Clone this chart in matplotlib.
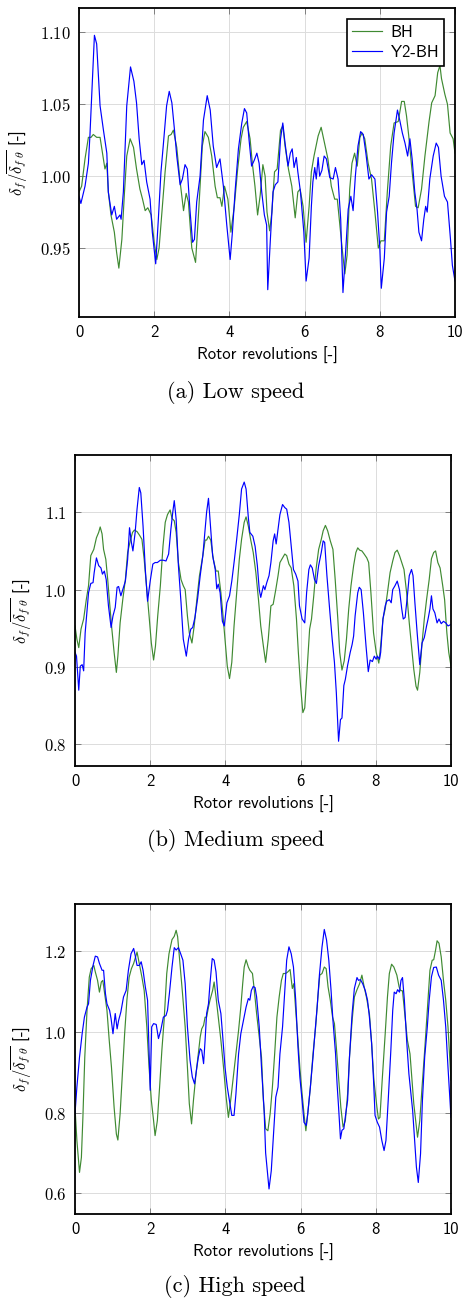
import matplotlib
matplotlib.use('Agg')
import matplotlib.pyplot as plt

plt.rcParams['mathtext.fontset'] = 'cm'
plt.rcParams['axes.unicode_minus'] = False

# ---- data ----
xticks = [0, 2, 4, 6, 8, 10]
xtick_labels = ['0', '2', '4', '6', '8', '10']

# (a) low speed
a_x_bh = [0.0, 0.07, 0.16, 0.25, 0.32, 0.38, 0.47, 0.56, 0.65, 0.69, 0.74, 0.78, 0.85, 0.94, 1.0, 1.06,
          1.14, 1.21, 1.27, 1.36, 1.45, 1.53, 1.62, 1.69, 1.76, 1.83, 1.92, 2.0, 2.07, 2.13, 2.2, 2.29,
          2.38, 2.45, 2.51, 2.6, 2.69, 2.78, 2.85, 2.91, 3.0, 3.1, 3.19, 3.28, 3.35, 3.44, 3.53, 3.62,
          3.68, 3.75, 3.8, 3.87, 3.96, 4.04, 4.13, 4.22, 4.31, 4.37, 4.46, 4.55, 4.61, 4.68, 4.75, 4.82,
          4.89, 4.95, 5.0, 5.07, 5.13, 5.2, 5.27, 5.36, 5.42, 5.48, 5.57, 5.66, 5.75, 5.82, 5.88, 5.96,
          6.04, 6.12, 6.18, 6.25, 6.36, 6.44, 6.53, 6.62, 6.71, 6.8, 6.87, 6.93, 6.99, 7.07, 7.13, 7.2,
          7.26, 7.33, 7.4, 7.47, 7.53, 7.6, 7.69, 7.78, 7.87, 7.96, 8.03, 8.12, 8.2, 8.29, 8.38, 8.49,
          8.58, 8.65, 8.71, 8.77, 8.86, 8.95, 9.02, 9.11, 9.2, 9.31, 9.38, 9.47, 9.54, 9.6, 9.64, 9.73,
          9.8, 9.87, 9.95, 10.0]
a_bh = [0.989, 0.993, 1.012, 1.027, 1.027, 1.029, 1.027, 1.027, 1.012, 1.005, 1.009, 0.989, 0.973, 0.961,
        0.947, 0.936, 0.956, 0.989, 1.014, 1.026, 1.020, 1.005, 0.991, 0.984, 0.976, 0.978, 0.973, 0.954,
        0.942, 0.950, 0.973, 1.003, 1.028, 1.029, 1.032, 1.020, 0.996, 0.976, 0.988, 0.982, 0.950, 0.940,
        0.979, 1.021, 1.031, 1.027, 1.014, 0.993, 0.985, 0.985, 0.979, 0.993, 0.984, 0.961, 0.979, 1.005,
        1.026, 1.034, 1.038, 1.026, 1.009, 0.993, 0.973, 0.987, 1.008, 1.000, 0.975, 0.962, 0.975, 1.003,
        1.005, 1.032, 1.035, 1.021, 1.005, 0.993, 0.971, 0.989, 0.991, 0.979, 0.954, 0.979, 1.003, 1.014,
        1.028, 1.034, 1.023, 1.012, 0.993, 0.984, 0.984, 0.968, 0.952, 0.932, 0.945, 0.991, 1.009, 1.016,
        1.007, 1.027, 1.030, 1.026, 1.009, 0.998, 0.975, 0.950, 0.955, 0.955, 0.989, 1.021, 1.037, 1.038,
        1.052, 1.052, 1.042, 1.028, 1.003, 0.979, 0.978, 0.991, 1.014, 1.038, 1.051, 1.056, 1.072, 1.077,
        1.068, 1.057, 1.050, 1.030, 1.026, 1.016]
a_x_y2 = [0.0, 0.05, 0.16, 0.25, 0.29, 0.41, 0.47, 0.56, 0.65, 0.74, 0.78, 0.87, 0.94, 1.0, 1.09, 1.12,
          1.18, 1.27, 1.37, 1.46, 1.53, 1.6, 1.67, 1.73, 1.8, 1.89, 1.95, 2.04, 2.11, 2.18, 2.24, 2.33,
          2.4, 2.47, 2.54, 2.6, 2.69, 2.75, 2.82, 2.88, 2.95, 3.02, 3.07, 3.13, 3.22, 3.31, 3.41, 3.49,
          3.57, 3.66, 3.75, 3.84, 3.93, 4.02, 4.08, 4.15, 4.24, 4.33, 4.4, 4.46, 4.52, 4.59, 4.66, 4.73,
          4.79, 4.86, 4.93, 4.99, 5.02, 5.09, 5.16, 5.22, 5.29, 5.36, 5.42, 5.48, 5.56, 5.62, 5.67, 5.72,
          5.78, 5.82, 5.89, 5.98, 6.04, 6.12, 6.18, 6.22, 6.27, 6.31, 6.36, 6.4, 6.46, 6.52, 6.58, 6.67,
          6.76, 6.82, 6.89, 6.96, 7.02, 7.09, 7.16, 7.23, 7.29, 7.35, 7.42, 7.49, 7.56, 7.63, 7.71, 7.78,
          7.87, 7.94, 8.0, 8.04, 8.12, 8.18, 8.25, 8.31, 8.38, 8.47, 8.53, 8.6, 8.67, 8.74, 8.8, 8.86,
          8.93, 8.99, 9.04, 9.11, 9.17, 9.22, 9.26, 9.33, 9.42, 9.5, 9.56, 9.63, 9.72, 9.8, 9.88, 9.93,
          10.0]
a_y2 = [0.986, 0.981, 0.993, 1.009, 1.028, 1.098, 1.092, 1.049, 1.032, 1.016, 0.989, 0.973, 0.979, 0.970,
        0.973, 0.970, 0.989, 1.049, 1.076, 1.066, 1.051, 1.026, 1.008, 1.011, 0.996, 0.984, 0.961, 0.939,
        0.970, 1.003, 1.021, 1.049, 1.059, 1.051, 1.032, 1.014, 0.994, 0.998, 1.008, 1.005, 0.977, 0.954,
        0.956, 0.982, 1.000, 1.039, 1.056, 1.046, 1.021, 1.006, 1.012, 0.993, 0.966, 0.942, 0.961, 0.989,
        1.019, 1.037, 1.047, 1.044, 1.026, 1.007, 1.011, 1.016, 1.009, 0.989, 0.973, 0.966, 0.921, 0.956,
        0.989, 0.994, 0.996, 1.026, 1.037, 1.023, 1.007, 1.016, 1.019, 1.006, 1.013, 1.003, 0.989, 0.961,
        0.927, 0.943, 0.979, 0.996, 1.006, 0.998, 1.013, 1.000, 1.004, 1.014, 1.012, 0.999, 0.998, 1.006,
        0.998, 0.970, 0.919, 0.947, 0.977, 0.986, 0.976, 1.000, 1.021, 1.031, 1.029, 1.016, 0.998, 1.001,
        0.998, 0.975, 0.950, 0.922, 0.943, 0.975, 0.986, 1.009, 1.030, 1.046, 1.039, 1.030, 1.023, 1.014,
        1.026, 1.012, 0.989, 0.977, 0.961, 0.955, 0.970, 0.979, 0.975, 0.998, 1.014, 1.023, 1.020, 1.000,
        0.986, 0.982, 0.956, 0.938, 0.927]

# (b) medium speed
b_x_bh = [0.0, 0.05, 0.1, 0.16, 0.23, 0.3, 0.36, 0.42, 0.5, 0.57, 0.63, 0.67, 0.72, 0.76, 0.82, 0.87,
          0.92, 0.98, 1.04, 1.1, 1.14, 1.2, 1.27, 1.34, 1.4, 1.47, 1.53, 1.58, 1.65, 1.72, 1.78, 1.84,
          1.91, 1.97, 2.03, 2.09, 2.14, 2.2, 2.27, 2.34, 2.4, 2.46, 2.53, 2.58, 2.64, 2.69, 2.75, 2.82,
          2.88, 2.93, 2.99, 3.04, 3.11, 3.17, 3.24, 3.31, 3.4, 3.46, 3.5, 3.55, 3.61, 3.68, 3.75, 3.81,
          3.88, 3.93, 3.99, 4.05, 4.11, 4.17, 4.23, 4.3, 4.37, 4.43, 4.5, 4.55, 4.61, 4.67, 4.74, 4.81,
          4.88, 4.94, 5.01, 5.07, 5.14, 5.21, 5.27, 5.34, 5.4, 5.45, 5.52, 5.58, 5.63, 5.69, 5.75, 5.82,
          5.89, 5.94, 6.0, 6.06, 6.11, 6.18, 6.24, 6.29, 6.35, 6.41, 6.48, 6.55, 6.6, 6.66, 6.72, 6.79,
          6.86, 6.92, 6.99, 7.04, 7.1, 7.16, 7.22, 7.28, 7.34, 7.41, 7.47, 7.52, 7.57, 7.63, 7.69, 7.76,
          7.81, 7.87, 7.94, 8.01, 8.08, 8.13, 8.19, 8.25, 8.31, 8.38, 8.45, 8.51, 8.57, 8.63, 8.69, 8.75,
          8.82, 8.89, 8.95, 9.01, 9.07, 9.11, 9.17, 9.23, 9.29, 9.35, 9.42, 9.48, 9.54, 9.59, 9.65, 9.71,
          9.78, 9.83, 9.89, 9.94, 10.0]
b_bh = [0.953, 0.936, 0.925, 0.949, 0.962, 0.987, 1.005, 1.044, 1.052, 1.067, 1.074, 1.081, 1.072, 1.052,
        1.039, 1.013, 0.983, 0.949, 0.919, 0.893, 0.914, 0.957, 0.987, 1.013, 1.048, 1.063, 1.074, 1.077,
        1.075, 1.070, 1.065, 1.039, 1.000, 0.966, 0.931, 0.909, 0.927, 0.966, 1.005, 1.056, 1.087, 1.097,
        1.103, 1.092, 1.089, 1.074, 1.035, 1.013, 1.005, 1.000, 0.966, 0.944, 0.931, 0.953, 0.987, 1.018,
        1.044, 1.064, 1.064, 1.069, 1.064, 1.039, 1.024, 1.024, 0.996, 0.970, 0.936, 0.901, 0.885, 0.906,
        0.953, 0.996, 1.039, 1.065, 1.087, 1.094, 1.082, 1.065, 1.048, 1.022, 0.987, 0.953, 0.927, 0.906,
        0.936, 0.979, 0.981, 1.000, 1.018, 1.035, 1.041, 1.046, 1.044, 1.033, 1.028, 1.005, 0.962, 0.919,
        0.875, 0.841, 0.847, 0.901, 0.949, 0.962, 0.992, 1.026, 1.052, 1.065, 1.076, 1.083, 1.076, 1.063,
        1.052, 1.013, 0.962, 0.919, 0.896, 0.908, 0.936, 0.975, 1.005, 1.031, 1.048, 1.054, 1.051, 1.050,
        1.046, 1.041, 1.035, 0.996, 0.944, 0.919, 0.905, 0.928, 0.962, 0.975, 0.996, 1.022, 1.037, 1.048,
        1.051, 1.044, 1.035, 1.026, 0.996, 0.957, 0.927, 0.897, 0.875, 0.870, 0.893, 0.931, 0.962, 0.987,
        1.013, 1.040, 1.048, 1.050, 1.035, 1.028, 1.005, 0.987, 0.944, 0.919, 0.901]
b_x_y2 = [0.0, 0.04, 0.1, 0.14, 0.19, 0.23, 0.27, 0.36, 0.42, 0.48, 0.51, 0.57, 0.63, 0.69, 0.73, 0.78,
          0.83, 0.89, 0.96, 1.01, 1.07, 1.12, 1.16, 1.22, 1.27, 1.34, 1.4, 1.45, 1.5, 1.54, 1.6, 1.65,
          1.71, 1.75, 1.81, 1.87, 1.93, 2.0, 2.07, 2.13, 2.19, 2.27, 2.35, 2.42, 2.49, 2.55, 2.6, 2.64,
          2.69, 2.75, 2.82, 2.88, 2.96, 3.02, 3.08, 3.13, 3.19, 3.26, 3.33, 3.4, 3.46, 3.5, 3.55, 3.59,
          3.66, 3.73, 3.77, 3.81, 3.86, 3.92, 3.97, 4.04, 4.11, 4.17, 4.24, 4.3, 4.37, 4.43, 4.5, 4.55,
          4.61, 4.65, 4.73, 4.79, 4.85, 4.9, 4.94, 5.01, 5.05, 5.1, 5.16, 5.21, 5.27, 5.31, 5.35, 5.4,
          5.45, 5.52, 5.58, 5.63, 5.69, 5.75, 5.81, 5.87, 5.93, 5.97, 6.04, 6.11, 6.16, 6.22, 6.26, 6.31,
          6.37, 6.42, 6.48, 6.55, 6.6, 6.64, 6.7, 6.78, 6.84, 6.9, 6.95, 7.01, 7.06, 7.1, 7.15, 7.19,
          7.25, 7.32, 7.37, 7.41, 7.45, 7.52, 7.56, 7.61, 7.67, 7.74, 7.8, 7.85, 7.91, 7.96, 8.01, 8.04,
          8.1, 8.13, 8.19, 8.25, 8.29, 8.36, 8.41, 8.45, 8.51, 8.57, 8.63, 8.69, 8.73, 8.78, 8.84, 8.89,
          8.95, 8.99, 9.04, 9.1, 9.17, 9.23, 9.29, 9.35, 9.39, 9.44, 9.48, 9.52, 9.57, 9.63, 9.68, 9.74,
          9.8, 9.86, 9.92, 10.0]
b_y2 = [0.919, 0.914, 0.870, 0.901, 0.903, 0.895, 0.944, 0.996, 1.008, 1.009, 1.022, 1.041, 1.031, 1.028,
        1.020, 1.024, 1.013, 0.979, 0.951, 0.966, 0.977, 1.003, 1.004, 0.992, 1.000, 1.011, 1.039, 1.080,
        1.061, 1.050, 1.074, 1.104, 1.132, 1.125, 1.082, 1.026, 0.985, 1.011, 1.033, 1.035, 1.035, 1.038,
        1.038, 1.037, 1.046, 1.078, 1.100, 1.115, 1.091, 1.031, 0.983, 0.936, 0.914, 0.936, 0.949, 0.951,
        0.964, 0.988, 1.018, 1.044, 1.078, 1.100, 1.118, 1.091, 1.044, 1.026, 1.001, 1.007, 0.996, 0.959,
        0.953, 0.983, 0.992, 1.011, 1.039, 1.065, 1.097, 1.130, 1.139, 1.130, 1.093, 1.074, 1.069, 1.056,
        1.031, 1.000, 0.990, 1.005, 1.000, 1.009, 1.018, 1.035, 1.063, 1.072, 1.059, 1.078, 1.097, 1.110,
        1.106, 1.104, 1.087, 1.056, 1.026, 1.020, 1.011, 0.979, 0.962, 0.957, 0.996, 1.026, 1.032, 1.028,
        1.013, 1.008, 1.031, 1.048, 1.063, 1.061, 1.018, 0.970, 0.936, 0.906, 0.867, 0.804, 0.832, 0.834,
        0.876, 0.884, 0.902, 0.919, 0.929, 0.940, 0.966, 0.996, 1.003, 1.000, 0.970, 0.927, 0.894, 0.909,
        0.907, 0.914, 0.910, 0.914, 0.910, 0.919, 0.962, 0.979, 0.985, 0.987, 0.983, 1.000, 1.005, 1.011,
        1.000, 0.975, 0.962, 0.964, 0.992, 1.018, 1.026, 1.018, 0.983, 0.944, 0.903, 0.931, 0.938, 0.953,
        0.962, 0.975, 0.992, 0.975, 0.970, 0.957, 0.962, 0.956, 0.959, 0.957, 0.953, 0.955]

# (c) high speed
c_x_bh = [0.0, 0.05, 0.12, 0.17, 0.21, 0.26, 0.32, 0.38, 0.43, 0.5, 0.54, 0.6, 0.65, 0.7, 0.74, 0.79,
          0.85, 0.91, 0.97, 1.04, 1.1, 1.14, 1.2, 1.27, 1.32, 1.38, 1.44, 1.5, 1.56, 1.61, 1.65, 1.71,
          1.78, 1.84, 1.91, 1.97, 2.03, 2.09, 2.13, 2.19, 2.25, 2.31, 2.37, 2.44, 2.5, 2.58, 2.64, 2.69,
          2.73, 2.8, 2.86, 2.93, 2.99, 3.04, 3.1, 3.15, 3.21, 3.27, 3.33, 3.37, 3.42, 3.46, 3.5, 3.55,
          3.59, 3.66, 3.7, 3.75, 3.81, 3.88, 3.95, 4.02, 4.08, 4.14, 4.21, 4.27, 4.35, 4.41, 4.46, 4.5,
          4.55, 4.61, 4.65, 4.72, 4.77, 4.83, 4.89, 4.96, 5.01, 5.07, 5.13, 5.19, 5.25, 5.31, 5.37, 5.43,
          5.49, 5.54, 5.6, 5.66, 5.72, 5.78, 5.82, 5.87, 5.93, 5.98, 6.04, 6.09, 6.14, 6.19, 6.26, 6.33,
          6.4, 6.46, 6.51, 6.57, 6.63, 6.68, 6.73, 6.79, 6.85, 6.9, 6.95, 7.01, 7.07, 7.13, 7.19, 7.25,
          7.3, 7.37, 7.43, 7.5, 7.57, 7.63, 7.69, 7.75, 7.83, 7.89, 7.95, 8.03, 8.07, 8.11, 8.17, 8.25,
          8.31, 8.36, 8.42, 8.48, 8.56, 8.62, 8.66, 8.71, 8.78, 8.84, 8.91, 8.95, 9.01, 9.07, 9.11, 9.17,
          9.23, 9.3, 9.37, 9.44, 9.5, 9.54, 9.59, 9.63, 9.68, 9.74, 9.8, 9.86, 9.92, 10.0]
c_bh = [0.813, 0.731, 0.652, 0.689, 0.788, 0.937, 1.053, 1.135, 1.156, 1.164, 1.148, 1.127, 1.098, 1.123,
        1.127, 1.094, 1.053, 0.979, 0.912, 0.813, 0.747, 0.732, 0.797, 0.912, 0.995, 1.078, 1.135, 1.156,
        1.169, 1.185, 1.197, 1.169, 1.135, 1.102, 1.012, 0.912, 0.830, 0.780, 0.743, 0.780, 0.863, 0.954,
        1.028, 1.144, 1.193, 1.228, 1.236, 1.251, 1.235, 1.160, 1.094, 1.012, 0.912, 0.822, 0.772, 0.830,
        0.888, 0.937, 0.987, 1.007, 1.016, 1.036, 1.036, 1.061, 1.078, 1.102, 1.123, 1.086, 1.036, 0.979,
        0.912, 0.838, 0.788, 0.830, 0.888, 0.937, 1.003, 1.061, 1.119, 1.160, 1.178, 1.160, 1.152, 1.144,
        1.102, 1.045, 0.995, 0.937, 0.830, 0.760, 0.755, 0.797, 0.863, 0.945, 1.036, 1.086, 1.127, 1.144,
        1.144, 1.148, 1.154, 1.107, 1.119, 1.053, 0.979, 0.912, 0.846, 0.797, 0.755, 0.797, 0.863, 0.945,
        1.012, 1.086, 1.140, 1.144, 1.160, 1.156, 1.111, 1.078, 1.036, 1.020, 0.962, 0.888, 0.813, 0.764,
        0.780, 0.846, 0.937, 1.028, 1.086, 1.104, 1.119, 1.140, 1.111, 1.086, 1.045, 0.970, 0.880, 0.813,
        0.784, 0.788, 0.880, 0.995, 1.086, 1.144, 1.167, 1.160, 1.140, 1.111, 1.102, 1.101, 1.036, 0.979,
        0.945, 0.896, 0.822, 0.772, 0.739, 0.780, 0.863, 0.954, 1.053, 1.152, 1.177, 1.178, 1.202, 1.225,
        1.219, 1.185, 1.127, 1.078, 1.012, 0.880]
c_x_y2 = [0.0, 0.05, 0.12, 0.19, 0.25, 0.32, 0.36, 0.41, 0.48, 0.54, 0.6, 0.65, 0.72, 0.76, 0.81, 0.85,
          0.92, 0.96, 1.01, 1.07, 1.12, 1.16, 1.22, 1.29, 1.36, 1.42, 1.49, 1.56, 1.6, 1.65, 1.71, 1.76,
          1.81, 1.87, 1.93, 1.96, 2.0, 2.04, 2.09, 2.16, 2.22, 2.28, 2.35, 2.42, 2.46, 2.51, 2.58, 2.64,
          2.69, 2.75, 2.81, 2.87, 2.93, 2.99, 3.06, 3.12, 3.18, 3.24, 3.28, 3.33, 3.37, 3.42, 3.46, 3.5,
          3.55, 3.59, 3.65, 3.7, 3.75, 3.81, 3.88, 3.93, 3.99, 4.05, 4.12, 4.17, 4.23, 4.28, 4.35, 4.41,
          4.48, 4.55, 4.61, 4.65, 4.69, 4.74, 4.79, 4.83, 4.9, 4.96, 5.03, 5.07, 5.16, 5.22, 5.28, 5.34,
          5.4, 5.45, 5.52, 5.58, 5.63, 5.69, 5.75, 5.81, 5.87, 5.93, 5.98, 6.04, 6.09, 6.15, 6.19, 6.26,
          6.33, 6.38, 6.44, 6.5, 6.57, 6.63, 6.69, 6.75, 6.81, 6.86, 6.93, 6.97, 7.01, 7.06, 7.1, 7.15,
          7.2, 7.25, 7.3, 7.37, 7.43, 7.5, 7.54, 7.59, 7.65, 7.72, 7.78, 7.83, 7.89, 7.94, 7.98, 8.04,
          8.1, 8.16, 8.22, 8.27, 8.33, 8.4, 8.45, 8.49, 8.54, 8.58, 8.63, 8.67, 8.71, 8.76, 8.82, 8.88,
          8.93, 8.98, 9.04, 9.08, 9.13, 9.19, 9.24, 9.3, 9.37, 9.42, 9.48, 9.54, 9.61, 9.67, 9.74, 9.8,
          9.86, 9.92, 10.0]
c_y2 = [0.797, 0.863, 0.937, 0.995, 1.036, 1.061, 1.069, 1.127, 1.164, 1.187, 1.185, 1.169, 1.152, 1.152,
        1.094, 1.069, 1.053, 1.032, 0.995, 1.045, 1.007, 1.028, 1.049, 1.086, 1.102, 1.152, 1.193, 1.206,
        1.189, 1.164, 1.164, 1.173, 1.152, 1.111, 1.078, 0.979, 0.855, 1.012, 1.020, 1.018, 0.983, 1.003,
        1.036, 1.040, 1.053, 1.094, 1.160, 1.208, 1.202, 1.208, 1.193, 1.177, 1.119, 1.012, 0.929, 0.888,
        0.871, 0.912, 0.937, 0.958, 0.954, 0.921, 0.979, 1.045, 1.069, 1.119, 1.181, 1.177, 1.148, 1.078,
        1.045, 0.987, 0.912, 0.863, 0.822, 0.793, 0.793, 0.846, 0.945, 0.995, 1.028, 1.061, 1.082, 1.078,
        1.102, 1.112, 1.109, 1.086, 1.012, 0.912, 0.805, 0.700, 0.611, 0.656, 0.747, 0.838, 0.863, 0.945,
        1.012, 1.102, 1.177, 1.210, 1.193, 1.160, 1.078, 0.962, 0.888, 0.830, 0.776, 0.768, 0.797, 0.863,
        0.937, 0.995, 1.061, 1.140, 1.210, 1.253, 1.227, 1.177, 1.102, 1.028, 0.945, 0.871, 0.813, 0.735,
        0.756, 0.760, 0.797, 0.830, 0.937, 1.045, 1.107, 1.134, 1.127, 1.129, 1.119, 1.102, 1.078, 1.036,
        0.970, 0.880, 0.793, 0.776, 0.764, 0.731, 0.706, 0.731, 0.830, 0.954, 1.053, 1.098, 1.094, 1.104,
        1.098, 1.127, 1.134, 1.078, 0.979, 0.896, 0.850, 0.805, 0.723, 0.665, 0.627, 0.698, 0.830, 0.937,
        1.012, 1.078, 1.136, 1.159, 1.160, 1.140, 1.127, 1.078, 1.012, 0.912, 0.788]

a_yticks = [0.95, 1.00, 1.05, 1.10]
a_ytick_labels = ['0.95', '1.00', '1.05', '1.10']
b_yticks = [0.8, 0.9, 1.0, 1.1]
b_ytick_labels = ['0.8', '0.9', '1.0', '1.1']
c_yticks = [0.6, 0.8, 1.0, 1.2]
c_ytick_labels = ['0.6', '0.8', '1.0', '1.2']

SANS = 'cmss10'
SERIF = 'cmr10'
GREEN = '#3f8a32'
BLUE = '#0000ff'
W, H = 463, 1301


def draw_panel(ax, x_bh, bh, x_y2, y2, ylim, yticks, ytick_labels):
    ax.plot(x_bh, bh, color=GREEN, linewidth=0.85, label='BH')
    ax.plot(x_y2, y2, color=BLUE, linewidth=0.85, label='Y2-BH')
    ax.set_xlim(0, 10)
    ax.set_ylim(*ylim)
    ax.set_xticks(xticks)
    ax.set_xticklabels(xtick_labels, fontfamily=SANS, fontsize=12)
    ax.set_yticks(yticks)
    ax.set_yticklabels(['$%s$' % t for t in ytick_labels], fontsize=12)
    ax.grid(True, color='#dcdcdc', linewidth=0.7)
    ax.set_axisbelow(True)
    ax.tick_params(direction='in', top=True, right=True, length=4, width=0.6,
                   color='#707070', pad=6)
    for s in ax.spines.values():
        s.set_linewidth(1.3)
        s.set_color('black')
    ax.set_xlabel('Rotor revolutions [-]', fontfamily=SANS, fontsize=12, labelpad=5)
    ax.set_ylabel(r'$\delta_f/\overline{\delta_{f\;\theta}}$ [-]', fontfamily=SANS,
                  fontsize=12, labelpad=7)


fig = plt.figure(figsize=(W / 100, H / 100), dpi=100)
ax_a = fig.add_axes([79 / W, 1 - 317 / H, 376 / W, 309 / H])
ax_b = fig.add_axes([75 / W, 1 - 766 / H, 376 / W, 311 / H])
ax_c = fig.add_axes([75 / W, 1 - 1214 / H, 376 / W, 310 / H])

draw_panel(ax_a, a_x_bh, a_bh, a_x_y2, a_y2, (0.902, 1.117), a_yticks, a_ytick_labels)
draw_panel(ax_b, b_x_bh, b_bh, b_x_y2, b_y2, (0.772, 1.174), b_yticks, b_ytick_labels)
draw_panel(ax_c, c_x_bh, c_bh, c_x_y2, c_y2, (0.549, 1.316), c_yticks, c_ytick_labels)

leg = ax_a.legend(loc='upper right', prop={'family': SANS, 'size': 12}, fancybox=False,
                  framealpha=1, edgecolor='black', handlelength=1.8, borderaxespad=0.65,
                  borderpad=0.35, labelspacing=0.3, handletextpad=0.5)
leg.get_frame().set_linewidth(1.2)

for caption, py in [('(a) Low speed', 392), ('(b) Medium speed', 840), ('(c) High speed', 1287)]:
    fig.text(0.508, 1 - py / H, caption, fontfamily=SERIF, fontsize=16, ha='center', va='center')

fig.savefig('out.png', dpi=100)
